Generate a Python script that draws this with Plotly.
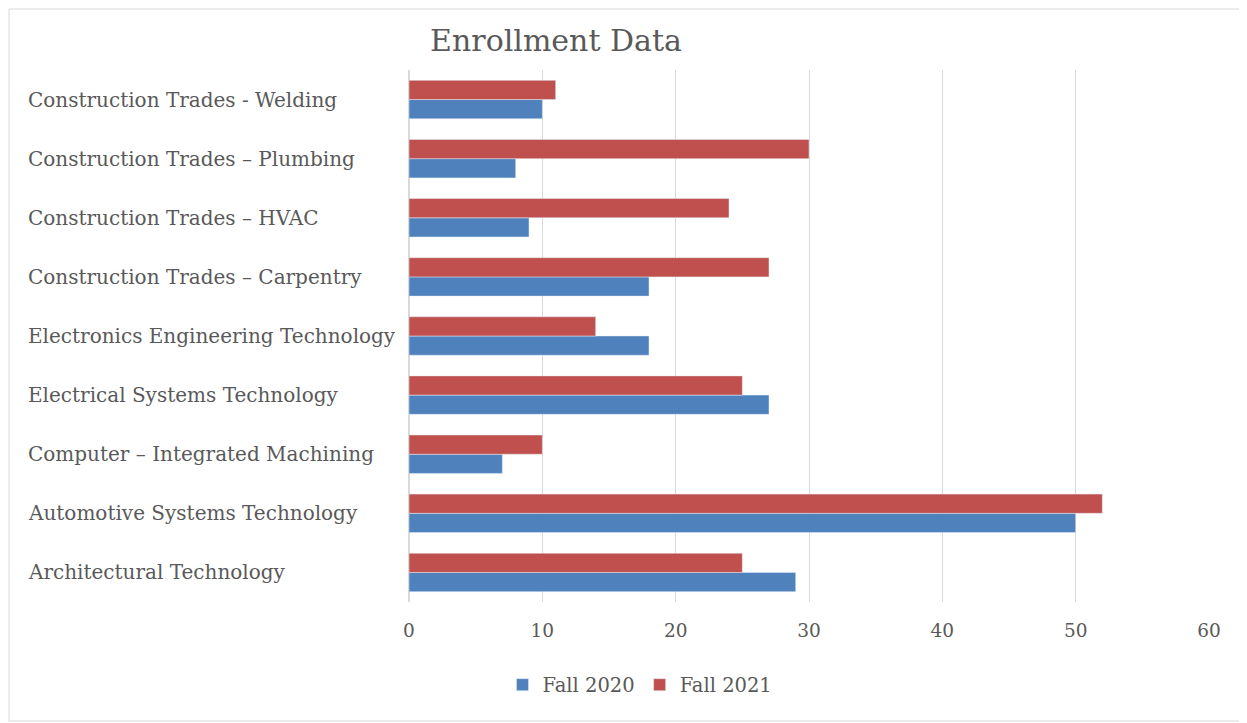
import plotly.graph_objects as go

categories = [
    "Architectural Technology",
    "Automotive Systems Technology",
    "Computer – Integrated Machining",
    "Electrical Systems Technology",
    "Electronics Engineering Technology",
    "Construction Trades – Carpentry",
    "Construction Trades – HVAC",
    "Construction Trades – Plumbing",
    "Construction Trades - Welding",
]
fall_2020 = [29, 50, 7, 27, 18, 18, 9, 8, 10]
fall_2021 = [25, 52, 10, 25, 14, 27, 24, 30, 11]
x_ticks = [0, 10, 20, 30, 40, 50, 60]

FONT = "DejaVu Serif"
GRAY = "#595959"

W, H = 1239, 715
L, R, T, B = 401, 38, 62, 121
PW, PH = W - L - R, H - T - B

fig = go.Figure()
fig.add_trace(go.Bar(y=categories, x=fall_2020, name="Fall 2020", orientation="h",
                     marker=dict(color="#4F81BD")))
fig.add_trace(go.Bar(y=categories, x=fall_2021, name="Fall 2021", orientation="h",
                     marker=dict(color="#C0504D")))

for c in categories:
    fig.add_annotation(x=0, xref="paper", xshift=-383, xanchor="left", y=c, yref="y",
                       text=c, showarrow=False, font=dict(family=FONT, size=20, color=GRAY))

fig.add_shape(type="rect", xref="paper", yref="paper", x0=-(L - 1) / PW, x1=1 + (R - 2) / PW,
              y0=-(B - 2) / PH, y1=1 + (T - 1) / PH, line=dict(color="#d9d9d9", width=1), layer="below")

fig.update_layout(
    width=W, height=H,
    margin=dict(l=L, r=R, t=T, b=B),
    paper_bgcolor="white", plot_bgcolor="white",
    barmode="group", bargap=0.35, bargroupgap=0,
    font=dict(family=FONT, size=18, color=GRAY),
    title=dict(text="Enrollment Data", x=548 / W, xanchor="center", y=1 - 32 / H, yanchor="middle",
               font=dict(family=FONT, size=30, color=GRAY)),
    xaxis=dict(range=[0, 60], tickvals=x_ticks, showgrid=True, gridcolor="#d9d9d9", gridwidth=1,
               zeroline=True, zerolinecolor="#d9d9d9", showline=False, ticks="",
               tickfont=dict(family=FONT, size=18.5, color=GRAY), ticklabelstandoff=15),
    yaxis=dict(showticklabels=False, showgrid=False, ticks=""),
    legend=dict(orientation="h", x=(632 - L) / PW, xanchor="center", y=-(677 - (H - B)) / PH,
                yanchor="middle", font=dict(family=FONT, size=19.5, color=GRAY),
                itemwidth=30, traceorder="normal"),
)

fig.write_html("out.html")
